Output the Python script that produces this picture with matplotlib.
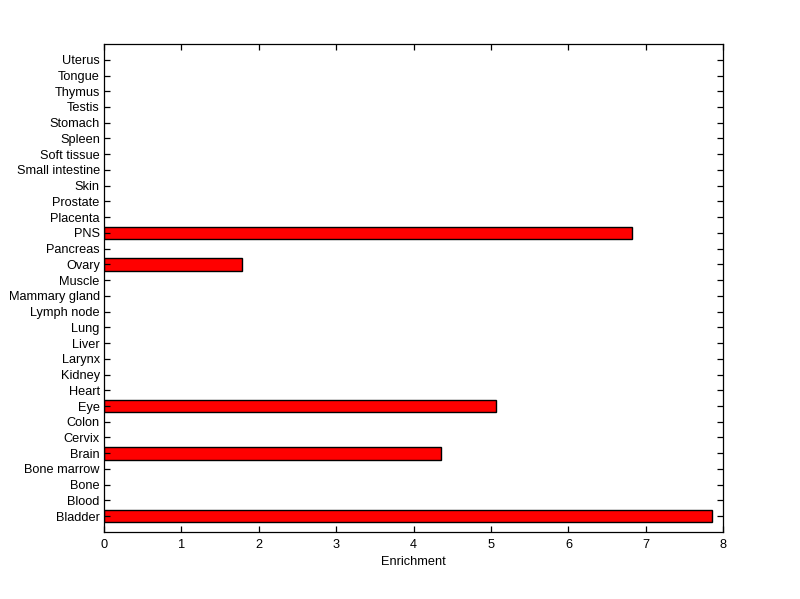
import matplotlib
matplotlib.use("Agg")
import matplotlib.pyplot as plt

tissues = ["Bladder", "Blood", "Bone", "Bone marrow", "Brain", "Cervix", "Colon", "Eye",
           "Heart", "Kidney", "Larynx", "Liver", "Lung", "Lymph node", "Mammary gland",
           "Muscle", "Ovary", "Pancreas", "PNS", "Placenta", "Prostate", "Skin",
           "Small intestine", "Soft tissue", "Spleen", "Stomach", "Testis", "Thymus",
           "Tongue", "Uterus"]
enrichment = [7.86, 0, 0, 0, 4.35, 0, 0, 5.06,
              0, 0, 0, 0, 0, 0, 0,
              0, 1.78, 0, 6.82, 0, 0, 0,
              0, 0, 0, 0, 0, 0,
              0, 0]

plt.rcParams['font.family'] = ['Liberation Sans', 'DejaVu Sans']
fig = plt.figure(figsize=(8, 5.99), dpi=100)
ax = fig.add_axes([0.13, 0.112, 0.774, 0.8145])
pos = list(range(1, len(tissues) + 1))
bars = [(p, v) for p, v in zip(pos, enrichment) if v > 0]
ax.barh([b[0] for b in bars], [b[1] for b in bars], height=0.8,
        color='#ff0000', edgecolor='black', linewidth=1.0)
ax.set_xlim(0, 8)
ax.set_ylim(0, len(tissues) + 1)
ax.set_yticks(pos)
ax.set_yticklabels(tissues, fontsize=9.2)
ax.set_xticks(range(0, 9))
ax.tick_params(axis='x', labelsize=9.2, pad=5)
ax.tick_params(axis='y', pad=3)
ax.tick_params(direction='in', top=True, right=True, length=4.5, width=0.9)
ax.set_xlabel('Enrichment', fontsize=9.2, labelpad=4)
for s in ax.spines.values():
    s.set_linewidth(0.9)
fig.savefig('out.png', dpi=100)
